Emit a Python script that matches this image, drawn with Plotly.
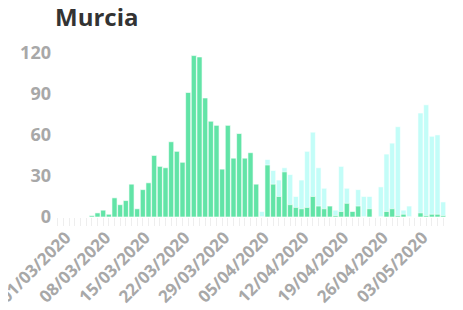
import datetime as dt
import plotly.graph_objects as go

start = dt.date(2020, 3, 1)
n_days = 69
dates = [(start + dt.timedelta(days=i)).strftime("%d/%m/%Y") for i in range(n_days)]

pcr = [0, 0, 0, 0, 0, 0, 1, 3, 5, 2,
       14, 9, 12, 24, 6, 20, 25, 45, 37, 36,
       55, 48, 40, 91, 118, 117, 87, 70, 67, 35,
       67, 43, 61, 43, 47, 24, 0, 38, 24, 15,
       33, 9, 7, 6, 7, 15, 8, 6, 8, 1,
       4, 10, 4, 8, 0, 6, 0, 0, 4, 6,
       1, 2, 0, 0, 3, 1, 2, 2, 1]

total = [None] * 36 + [4, 42, 34, 27,
         36, 31, 15, 27, 48, 62, 36, 21, None, 5,
         37, 21, None, 20, 15, 15, None, 22, 46, 54,
         66, 5, 8, None, 76, 82, 59, 60, 11]

tick_labels = [d if i % 7 == 0 else "" for i, d in enumerate(dates)]
y_ticks = [0, 30, 60, 90, 120]

fig = go.Figure()
fig.add_trace(go.Bar(x=dates, y=total, marker=dict(color="#c3fdf8",
                     line=dict(color="rgba(255,255,255,0.6)", width=1)),
                     hoverinfo="x+y"))
fig.add_trace(go.Bar(x=dates, y=pcr, marker=dict(color="#62e4a7",
                     line=dict(color="rgba(255,255,255,0.6)", width=1)),
                     hoverinfo="x+y"))

fig.update_layout(
    width=463, height=310,
    margin=dict(l=47, r=25, t=38, b=101),
    barmode="overlay", bargap=0.1,
    showlegend=False,
    plot_bgcolor="white", paper_bgcolor="white",
    title=dict(text="<b>Murcia</b>", x=0, xref="paper", xanchor="left",
               y=1 - 10 / 310, yref="container", yanchor="middle",
               font=dict(family="Open Sans", size=24, color="#333333")),
)
fig.update_xaxes(type="category", tickmode="array", tickvals=dates, ticktext=tick_labels,
                 tickangle=-45, ticks="outside", ticklen=8, tickcolor="#eeeeee", tickwidth=1,
                 showgrid=False, showline=False, zeroline=False, automargin=False,
                 ticklabelshift=8, ticklabelstandoff=-5,
                 tickfont=dict(family="Open Sans", size=17, color="#a8a8a8", weight="bold"))
fig.update_yaxes(range=[0, 125], tickvals=y_ticks, showgrid=False, zeroline=False,
                 showline=False, automargin=False, ticks="", ticklabelstandoff=3,
                 tickfont=dict(family="Open Sans", size=18, color="#a8a8a8", weight="bold"))

fig.write_html("out.html")
